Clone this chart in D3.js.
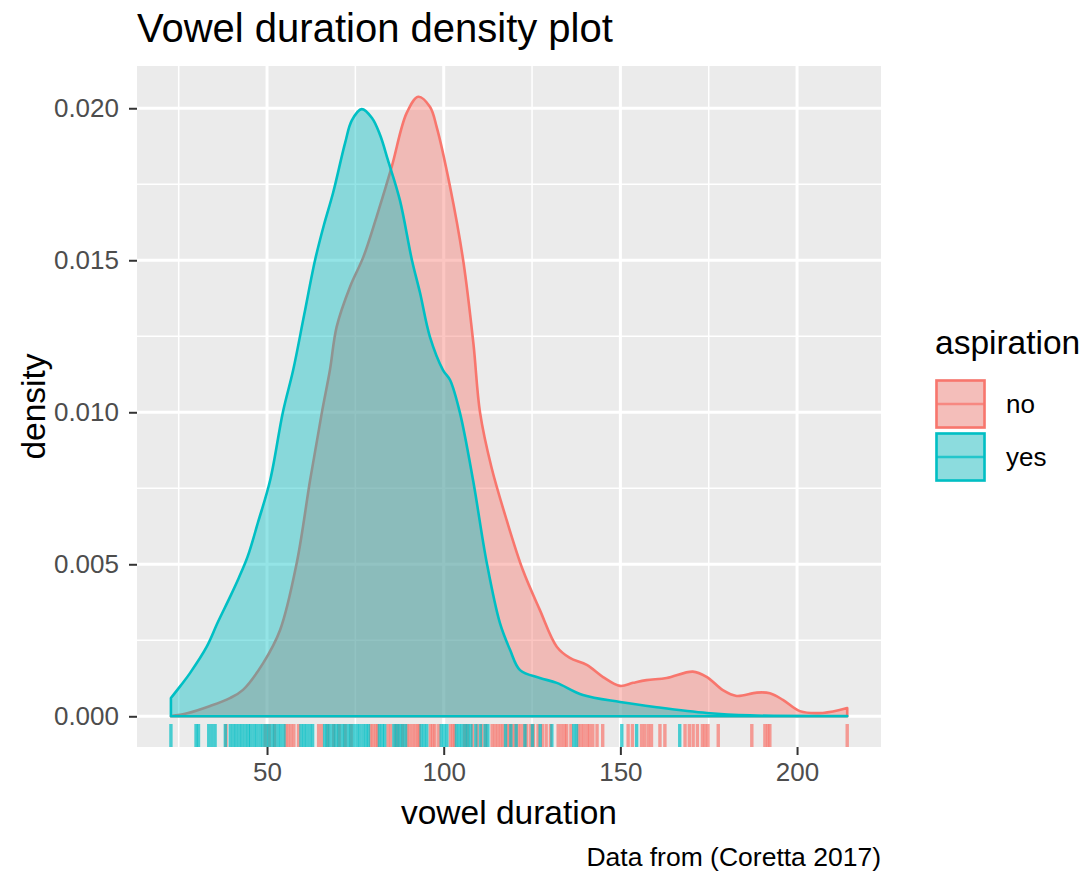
<!DOCTYPE html>
<html><head><meta charset="utf-8">
<script src="https://cdn.jsdelivr.net/npm/d3@7"></script>
<style>
body{margin:0;background:#fff;}
text{font-family:"Liberation Sans",Arial,Helvetica,sans-serif;}
</style>
</head><body><svg id="chart" width="1086" height="875"></svg>
<script>
// ---- data ----
const groups = ["no", "yes"];
const noDuration = [22.8, 27.4, 33.9, 39.5, 43.2, 48.9, 53.7, 58.4, 62.2, 65.5, 67.8, 69.7, 73.5, 77.3, 81.0, 85.3, 89.5, 92.8, 96.1, 98.0, 101.8, 105.5, 108.4, 110.3, 113.5, 117.8, 122.4, 127.2, 132.0, 135.7, 140.5, 145.1, 149.9, 153.6, 157.4, 163.1, 170.5, 174.4, 179.0, 182.9, 188.6, 192.3, 196.0, 200.8, 207.3, 214.2];
const noDensity = [0.00001, 0.00010, 0.00034, 0.00060, 0.00087, 0.00175, 0.00284, 0.00504, 0.00777, 0.00998, 0.01139, 0.01281, 0.01413, 0.01512, 0.01643, 0.01808, 0.01984, 0.02038, 0.02005, 0.01939, 0.01742, 0.01501, 0.01227, 0.00998, 0.00820, 0.00646, 0.00481, 0.00350, 0.00229, 0.00192, 0.00169, 0.00129, 0.00100, 0.00110, 0.00119, 0.00126, 0.00147, 0.00130, 0.00086, 0.00067, 0.00078, 0.00076, 0.00054, 0.00017, 0.00011, 0.00027];
const yesDuration = [22.8, 25.5, 28.2, 32.9, 36.1, 39.5, 42.0, 44.5, 47.5, 50.9, 54.5, 57.4, 60.5, 63.6, 66.1, 68.7, 72.1, 74.0, 76.8, 79.7, 82.0, 84.2, 87.6, 91.0, 93.3, 96.1, 99.8, 101.8, 104.6, 108.3, 112.2, 115.9, 118.8, 121.6, 127.2, 132.0, 139.4, 149.9, 160.3, 174.5, 186.7, 214.2];
const yesDensity = [0.00060, 0.00100, 0.00142, 0.00228, 0.00310, 0.00392, 0.00455, 0.00525, 0.00640, 0.00777, 0.01001, 0.01139, 0.01320, 0.01501, 0.01616, 0.01722, 0.01886, 0.01960, 0.01997, 0.01968, 0.01912, 0.01830, 0.01698, 0.01501, 0.01393, 0.01248, 0.01139, 0.01106, 0.00998, 0.00777, 0.00504, 0.00307, 0.00218, 0.00152, 0.00126, 0.00110, 0.00070, 0.00047, 0.00030, 0.00011, 0.00003, 0.00001];
const noRug = [38.4, 49.5, 50.6, 52.1, 55.3, 56.0, 56.8, 57.6, 58.9, 64.6, 65.5, 67.2, 68.9, 70.4, 72.1, 73.8, 79.3, 80.0, 80.8, 81.3, 84.2, 85.0, 86.3, 87.1, 88.4, 89.6, 90.3, 91.2, 92.0, 92.8, 93.1, 96.2, 96.9, 97.5, 98.6, 101.9, 102.6, 103.1, 105.9, 106.7, 108.2, 109.5, 110.8, 111.9, 113.7, 114.5, 115.3, 116.1, 116.8, 117.9, 118.6, 119.4, 120.2, 121.1, 121.9, 122.8, 123.5, 124.6, 125.4, 126.7, 127.9, 129.0, 130.2, 132.4, 133.3, 134.2, 134.8, 136.0, 138.1, 138.9, 139.7, 140.6, 141.3, 142.2, 143.4, 145.0, 152.2, 153.4, 156.0, 156.9, 157.9, 158.8, 161.2, 162.6, 168.3, 169.5, 170.6, 171.8, 173.2, 174.0, 174.8, 177.7, 187.2, 190.9, 191.7, 192.3, 214.2];
const yesRug = [22.8, 29.9, 30.6, 33.5, 34.4, 35.3, 38.2, 39.6, 40.5, 41.3, 42.2, 43.0, 43.9, 44.7, 45.4, 46.3, 47.1, 48.0, 48.8, 49.7, 50.5, 51.4, 52.2, 53.1, 53.9, 54.8, 59.6, 60.4, 61.2, 62.1, 62.9, 66.3, 67.0, 67.8, 68.7, 69.5, 70.3, 71.2, 72.0, 72.9, 73.7, 74.6, 75.5, 76.3, 77.2, 78.0, 78.7, 81.8, 82.6, 83.3, 85.9, 86.7, 87.5, 88.3, 89.2, 93.6, 94.4, 95.2, 99.3, 100.1, 100.9, 103.6, 104.4, 105.2, 106.1, 106.9, 107.7, 109.1, 110.4, 111.7, 112.5, 117.5, 119.0, 120.5, 123.0, 125.1, 127.3, 130.6, 136.8, 137.6, 150.4, 154.6, 166.8];
const xTicks = [50, 100, 150, 200];
const xMinorTicks = [25, 75, 125, 175];
const yTicks = [0, 0.005, 0.010, 0.015, 0.020];
const yMinorTicks = [0.0025, 0.0075, 0.0125, 0.0175];

// ---- styles ----
const groupColors = {no: "#F8766D", yes: "#00BFC4"};
const FONT = '"Liberation Sans",Arial,Helvetica,sans-serif';
const panel = {left: 137, right: 881, top: 66, bottom: 747};

const svg = d3.select("#chart");
svg.append("rect").attr("width", 1086).attr("height", 875).attr("fill", "#fff");

const x = d3.scaleLinear().domain([13.2, 223.76]).range([panel.left, panel.right]);
const y = d3.scaleLinear().domain([-0.00101, 0.02139]).range([panel.bottom, panel.top]);

// panel background
svg.append("rect").attr("x", panel.left).attr("y", panel.top)
  .attr("width", panel.right - panel.left).attr("height", panel.bottom - panel.top)
  .attr("fill", "#EBEBEB");

const grid = svg.append("g");
grid.selectAll(".ymin").data(yMinorTicks).join("line")
  .attr("x1", panel.left).attr("x2", panel.right)
  .attr("y1", d => y(d)).attr("y2", d => y(d))
  .attr("stroke", "#fff").attr("stroke-width", 1.5);
grid.selectAll(".xmin").data(xMinorTicks).join("line")
  .attr("y1", panel.top).attr("y2", panel.bottom)
  .attr("x1", d => x(d)).attr("x2", d => x(d))
  .attr("stroke", "#fff").attr("stroke-width", 1.5);
grid.selectAll(".ymaj").data(yTicks).join("line")
  .attr("x1", panel.left).attr("x2", panel.right)
  .attr("y1", d => y(d)).attr("y2", d => y(d))
  .attr("stroke", "#fff").attr("stroke-width", 3);
grid.selectAll(".xmaj").data(xTicks).join("line")
  .attr("y1", panel.top).attr("y2", panel.bottom)
  .attr("x1", d => x(d)).attr("x2", d => x(d))
  .attr("stroke", "#fff").attr("stroke-width", 3);

// densities
const series = [
  {key: "no", xs: noDuration, ys: noDensity},
  {key: "yes", xs: yesDuration, ys: yesDensity}
];
const area = d3.area()
  .x(d => x(d[0])).y0(y(0)).y1(d => y(Math.max(0, d[1])))
  .curve(d3.curveCatmullRom.alpha(0.5));
series.forEach(s => {
  const pts = s.xs.map((v, i) => [v, s.ys[i]]);
  svg.append("path")
    .attr("d", area(pts))
    .attr("fill", groupColors[s.key]).attr("fill-opacity", 0.42)
    .attr("stroke", groupColors[s.key]).attr("stroke-width", 2.6)
    .attr("stroke-linejoin", "round");
});

// rug
const rugLen = 23;
[{key: "no", vals: noRug}, {key: "yes", vals: yesRug}].forEach(r => {
  svg.append("g").selectAll("line").data(r.vals).join("line")
    .attr("x1", d => x(d)).attr("x2", d => x(d))
    .attr("y1", panel.bottom).attr("y2", panel.bottom - rugLen)
    .attr("stroke", groupColors[r.key]).attr("stroke-opacity", 0.7)
    .attr("stroke-width", 3.4);
});

// axes
const xAxis = svg.append("g").attr("transform", `translate(0,${panel.bottom})`)
  .call(d3.axisBottom(x).tickValues(xTicks).tickSize(8).tickPadding(8).tickFormat(d3.format("d")));
const yAxis = svg.append("g").attr("transform", `translate(${panel.left},0)`)
  .call(d3.axisLeft(y).tickValues(yTicks).tickSize(8).tickPadding(10).tickFormat(d3.format(".3f")));
[xAxis, yAxis].forEach(a => {
  a.select(".domain").remove();
  a.selectAll(".tick line").attr("stroke", "#333333").attr("stroke-width", 2);
  a.selectAll(".tick text").attr("fill", "#4D4D4D").style("font-size", "26px").style("font-family", FONT);
});

// titles
svg.append("text").attr("x", 137).attr("y", 42)
  .style("font-size", "40px").attr("fill", "#000").text("Vowel duration density plot");
svg.append("text").attr("x", (panel.left + panel.right) / 2).attr("y", 824)
  .attr("text-anchor", "middle").style("font-size", "33.5px").attr("fill", "#000").text("vowel duration");
svg.append("text").attr("transform", `translate(45,${(panel.top + panel.bottom) / 2}) rotate(-90)`)
  .attr("text-anchor", "middle").style("font-size", "33.5px").attr("fill", "#000").text("density");
svg.append("text").attr("x", panel.right).attr("y", 866)
  .attr("text-anchor", "end").style("font-size", "26.5px").attr("fill", "#000").text("Data from (Coretta 2017)");

// legend
const lg = svg.append("g");
lg.append("text").attr("x", 935).attr("y", 354).style("font-size", "33.5px").attr("fill", "#000").text("aspiration");
groups.forEach((g, i) => {
  const ky = 379 + i * 53;
  lg.append("rect").attr("x", 935).attr("y", ky).attr("width", 51).attr("height", 50).attr("fill", "#F2F2F2");
  lg.append("rect").attr("x", 936.5).attr("y", ky + 1.5).attr("width", 48).attr("height", 47)
    .attr("fill", groupColors[g]).attr("fill-opacity", 0.42)
    .attr("stroke", groupColors[g]).attr("stroke-width", 2.6);
  lg.append("line").attr("x1", 936).attr("x2", 985).attr("y1", ky + 25).attr("y2", ky + 25)
    .attr("stroke", groupColors[g]).attr("stroke-opacity", 0.75).attr("stroke-width", 2.6);
  lg.append("text").attr("x", 1006).attr("y", ky + 34).style("font-size", "26px").attr("fill", "#000").text(g);
});
</script></body></html>
